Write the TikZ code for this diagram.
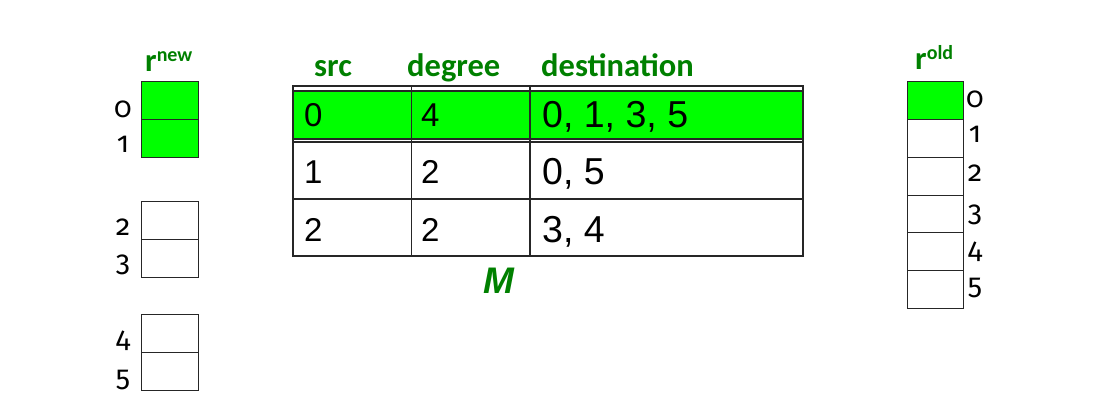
\documentclass[tikz,border=0pt]{standalone}
\usepackage{fontspec}
\setmainfont{Liberation Sans}
\newfontfamily\hdrfont{Carlito}
\newfontfamily\numfont[Numbers=OldStyle]{Fira Sans}
\definecolor{hgreen}{HTML}{00FF00}
\definecolor{tgreen}{HTML}{008000}
\begin{document}
\begin{tikzpicture}[x=1pt,y=-1pt,
  cellbox/.style={draw=black!85, line width=1pt, minimum width=57pt, minimum height=38pt, inner sep=0pt, outer sep=0pt},
  idx/.style={font=\numfont\fontsize{29}{29}\selectfont, anchor=base, inner sep=0pt},
  hdr/.style={font=\hdrfont\bfseries\fontsize{32.5}{32.5}\selectfont, text=tgreen, anchor=base west, inner sep=0pt},
  ent/.style={font=\fontsize{33}{33}\selectfont, anchor=base west, inner sep=0pt},
  dst/.style={font=\fontsize{37.5}{37.5}\selectfont, anchor=base west, inner sep=0pt},
  tline/.style={draw=black!85, line width=1.5pt}]
\useasboundingbox (0,0) rectangle (1094,414);

% r_new vector
\node[hdr] (rnew) at (145,72) {r\raisebox{10pt}{\fontsize{20}{20}\selectfont new}};
\node[cellbox, fill=hgreen] (n0) at (169.5,100.5) {};
\node[cellbox, fill=hgreen] (n1) at (169.5,138.5) {};
\node[cellbox] (n2) at (169.5,220) {};
\node[cellbox] (n3) at (169.5,258) {};
\node[cellbox] (n4) at (169.5,333.3) {};
\node[cellbox] (n5) at (169.5,371.3) {};
\node[idx] (ln0) at (123,118) {0};
\node[idx] (ln1) at (123,153) {1};
\node[idx] (ln2) at (123,235) {2};
\node[idx] (ln3) at (123,271) {3};
\node[idx] (ln4) at (123,347) {4};
\node[idx] (ln5) at (123,386) {5};

% r_old vector
\node[hdr] (rold) at (915,70) {r\raisebox{10pt}{\fontsize{20}{20}\selectfont old}};
\begin{scope}[cellbox/.append style={minimum width=56pt, minimum height=37.8pt}]
\node[cellbox, fill=hgreen] (o0) at (935,100.6) {};
\node[cellbox] (o1) at (935,138.4) {};
\node[cellbox] (o2) at (935,176.2) {};
\node[cellbox] (o3) at (935,214) {};
\node[cellbox] (o4) at (935,251.8) {};
\node[cellbox] (o5) at (935,289.6) {};
\end{scope}
\node[idx] (lo0) at (975,108) {0};
\node[idx] (lo1) at (975,143) {1};
\node[idx] (lo2) at (975,182) {2};
\node[idx] (lo3) at (975,221) {3};
\node[idx] (lo4) at (975,258) {4};
\node[idx] (lo5) at (975,294) {5};

% table M
\fill[hgreen] (293,91) rectangle (803,139);
\foreach \yy in {86,91,139,142,199,256} \draw[tline] (292.25,\yy) -- (803.75,\yy);
\foreach \xx in {293,411.5,530,803} \draw[tline] (\xx,86) -- (\xx,256);

\node[hdr] (hsrc) at (314,77) {src};
\node[hdr] (hdeg) at (407,77) {degree};
\node[hdr] (hdst) at (541,77) {destination};

\node[ent] (s0) at (304,127) {0};
\node[ent] (d0) at (421,127) {4};
\node[dst] (e0) at (542,128) {0, 1, 3, 5};
\node[ent] (s1) at (304,184) {1};
\node[ent] (d1) at (421,184) {2};
\node[dst] (e1) at (542,185) {0, 5};
\node[ent] (s2) at (304,241) {2};
\node[ent] (d2) at (421,241) {2};
\node[dst] (e2) at (542,242) {3, 4};

\node[font=\bfseries\itshape\fontsize{37}{37}\selectfont, text=tgreen, anchor=base, inner sep=0pt] (M) at (499,293) {M};
\end{tikzpicture}
\end{document}
